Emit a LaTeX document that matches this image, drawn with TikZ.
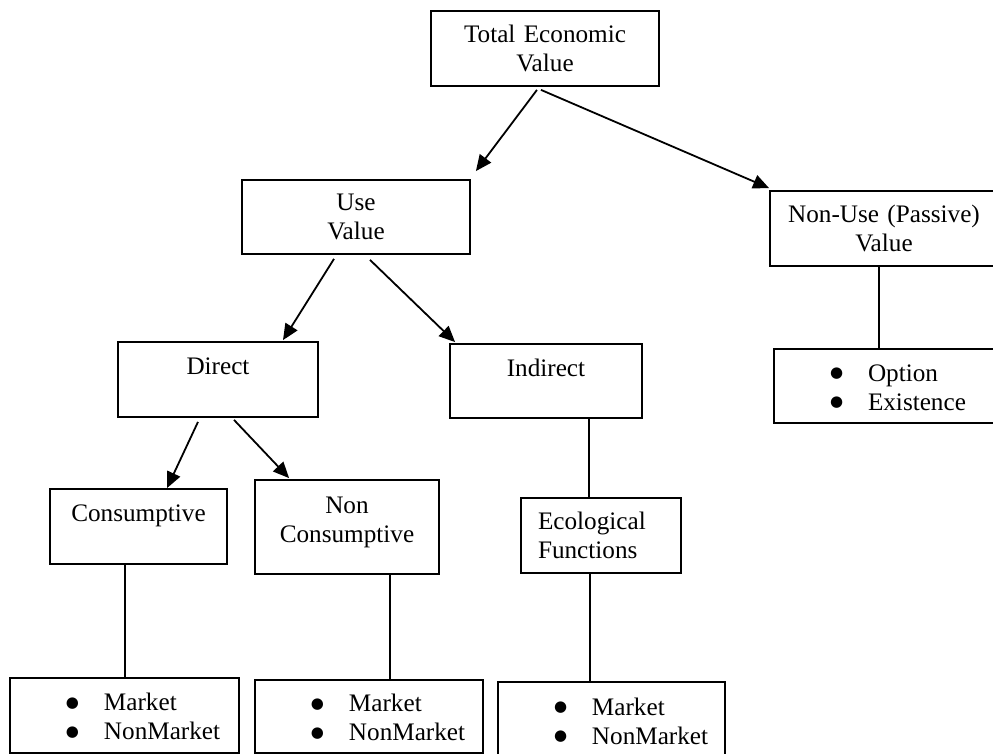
\documentclass[tikz,border=0pt]{standalone}
\usepackage{fontspec}
\setmainfont{Liberation Serif}
\newfontfamily\dotfont{DejaVu Sans}
\usetikzlibrary{arrows.meta}
% line struts: a slightly taller first line sets the text a little lower in its box
\newcommand{\firststrut}{\rule{0pt}{14pt}}
\newcommand{\lowstrut}{\rule[-8.85pt]{0pt}{8.85pt}}
% one bullet line of a list box
\newcommand{\listdot}{\raisebox{1.8pt}{\dotfont\fontsize{7.5pt}{14.5pt}\selectfont ●}}
\newcommand{\listrow}[1]{\hspace*{28pt}\makebox[19pt][l]{\listdot}#1}
\begin{document}
\begin{tikzpicture}[x=0.5pt,y=-0.5pt,
  box/.style={draw, line width=0.9pt, rectangle, inner sep=0pt,
    font=\fontsize{12.6pt}{14.5pt}\selectfont},
  size/.style 2 args={minimum width=#1, text width=#1, minimum height=#2},
  ctr/.style={box, align=center},
  lft/.style={box, align=left},
  arr/.style={line width=0.9pt, -{Triangle[length=8pt,width=7pt]}},
  lnk/.style={line width=0.9pt}]
\useasboundingbox (0,0) rectangle (993,754);
\clip (0,0) rectangle (993,754);

% boxes
\node[ctr, size={114pt}{37.5pt}] (tev) at (545,48.5) {Total Economic\\Value};
\node[ctr, size={114pt}{37pt}] (use) at (356,217) {Use\\Value};
\node[ctr, size={114pt}{37.5pt}] (nonuse) at (884,228.5) {Non-Use (Passive)\\Value};
\node[lft, size={113pt}{37pt}] (option) at (887,386)
  {\firststrut\listrow{Option}\\\listrow{Existence}\strut};
\node[ctr, size={100pt}{37.5pt}] (direct) at (218,379.5) {\firststrut Direct\\\strut};
\node[ctr, size={96pt}{37pt}] (indirect) at (546,381) {\firststrut Indirect\\\strut};
\node[ctr, size={88.5pt}{37.5pt}] (cons) at (138.5,526.5) {\firststrut Consumptive\\\strut};
\node[ctr, size={92pt}{47pt}] (noncons) at (347,527) {\strut Non\\Consumptive\lowstrut};
\node[lft, size={80pt}{37.5pt}] (eco) at (601,535.5)
  {\hspace*{8.5pt}Ecological\\\hspace*{8.5pt}Functions};
\node[lft, size={114.5pt}{37.5pt}] (b1) at (124.5,715.5)
  {\firststrut\listrow{Market}\\\listrow{NonMarket}\strut};
\node[lft, size={114pt}{36.5pt}] (b2) at (369,716.5)
  {\firststrut\listrow{Market}\\\listrow{NonMarket}\strut};
\node[lft, size={113.5pt}{38pt}] (b3) at (611.5,720)
  {\firststrut\listrow{Market}\\\listrow{NonMarket}\strut};

% arrows
\draw[arr] ([xshift=-4pt,yshift=-1.5pt]tev.south) -- ([xshift=2.5pt,yshift=4pt]use.north east);
\draw[arr] ([xshift=-2pt,yshift=-1.5pt]tev.south) -- ([yshift=1pt]nonuse.north west);
\draw[arr] ([xshift=-11pt,yshift=-2pt]use.south) -- ([xshift=32.5pt,yshift=0.5pt]direct.north);
\draw[arr] ([xshift=7pt,yshift=-2.5pt]use.south) -- ([xshift=3pt,yshift=0.5pt]indirect.north west);
\draw[arr] ([xshift=-10pt,yshift=-2pt]direct.south) -- ([xshift=14.25pt]cons.north);
\draw[arr] ([xshift=8pt,yshift=-1pt]direct.south) -- ([xshift=17.5pt,yshift=0.5pt]noncons.north west);

% plain links
\draw[lnk] ([xshift=-2.5pt]nonuse.south) -- ([xshift=-2.5pt]nonuse.south |- option.north);
\draw[lnk] ([xshift=21.5pt]indirect.south) -- ([xshift=21.5pt]indirect.south |- eco.north);
\draw[lnk] ([xshift=-5.5pt]eco.south) -- ([xshift=-5.5pt]eco.south |- b3.north);
\draw[lnk] ([xshift=-6.75pt]cons.south) -- ([xshift=-6.75pt]cons.south |- b1.north);
\draw[lnk] ([xshift=21.5pt]noncons.south) -- ([xshift=21.5pt]noncons.south |- b2.north);
\end{tikzpicture}
\end{document}
